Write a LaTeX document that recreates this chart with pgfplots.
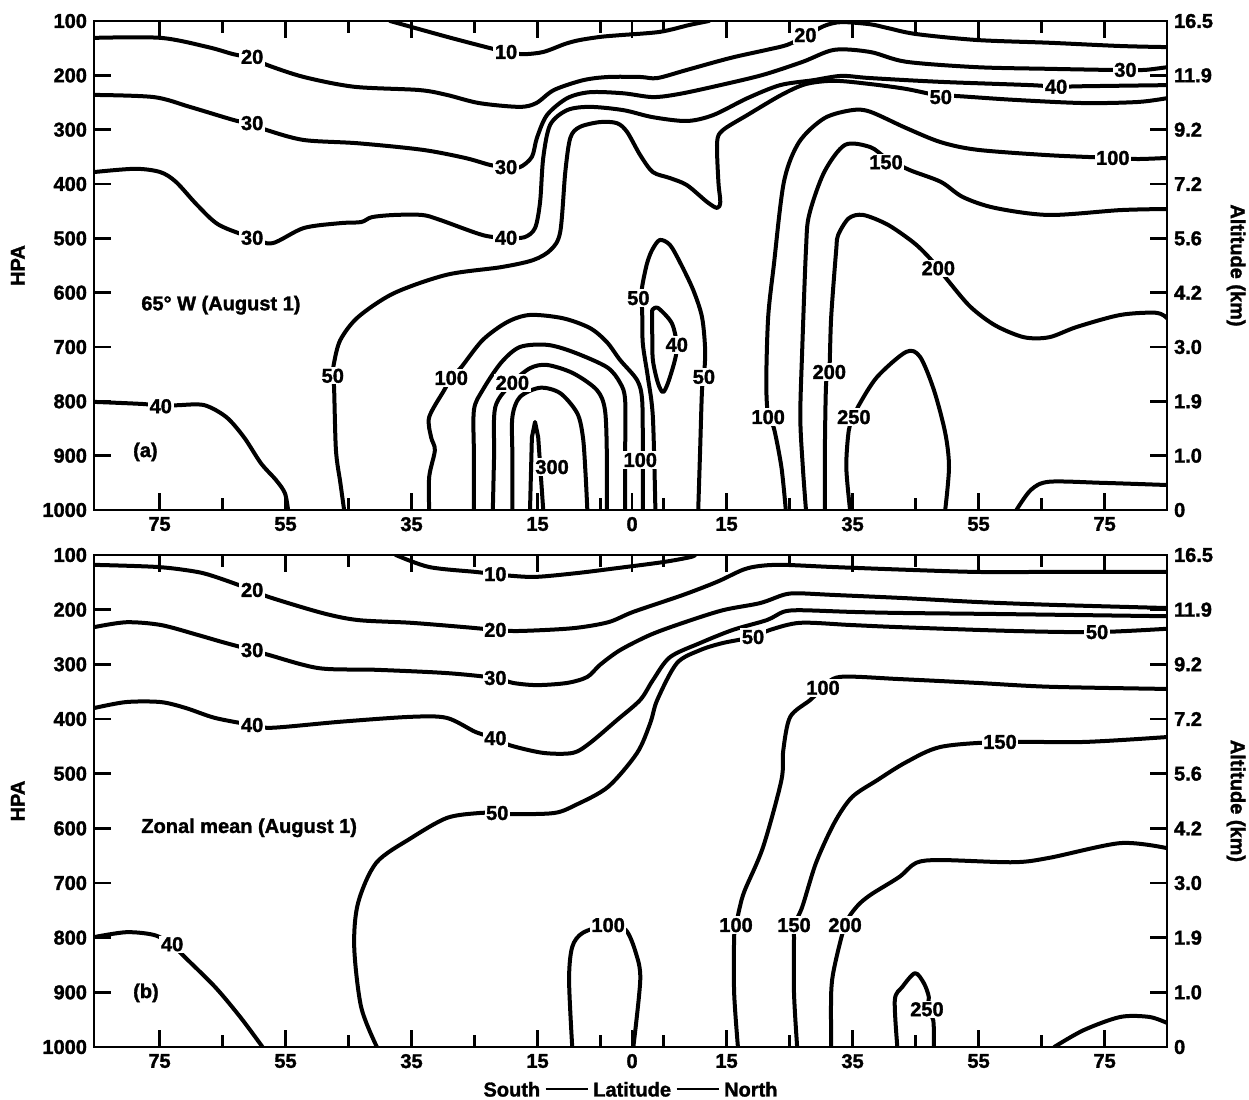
\documentclass[border=0pt]{standalone}
\usepackage{pgfplots}
\pgfplotsset{compat=1.18}
\usepackage{fontspec}
\setmainfont{Liberation Sans}[BoldFeatures={FakeBold=1.6}]
\newcommand{\tl}{\bfseries\fontsize{10}{11.5}\selectfont}
\pgfplotsset{
 base/.style={scale only axis, width=536.5pt, xmin=-85.4, xmax=84.9, ymin=100, ymax=1000, y dir=reverse},
 main/.style={base, axis line style={line width=1.4pt}, tick style={line width=1.4pt, black}, tick align=inside,
   major tick length=8.5pt, minor tick length=6pt,
   xtick={-75,-55,-35,-15,0,15,35,55,75}, xticklabels={75,55,35,15,0,15,35,55,75},
   minor xtick={-65,-45,-25,-5,5,25,45,65}, xtick pos=both, xticklabel pos=lower,
   ytick={100,200,300,400,500,600,700,800,900,1000}, yticklabels={100,200,300,400,500,600,700,800,900,1000},
   ytick pos=both, yticklabel pos=left, ticklabel style={font=\tl},
   ylabel={HPA}, ylabel style={font=\tl}, ylabel shift=2pt, no markers},
 rightax/.style={base, hide x axis, axis y line*=right, y axis line style={draw=none},
   ytick={100,200,300,400,500,600,700,800,900,1000}, yticklabels={16.5,11.9,9.2,7.2,5.6,4.2,3.0,1.9,1.0,0},
   ytick style={draw=none}, ticklabel style={font=\tl},
   ylabel={Altitude (km)}, ylabel style={font=\tl, rotate=180}},
 cl/.style={line width=2pt, black, smooth, tension=0.5, line join=round, line cap=round},
 sl/.style={line width=2pt, black, sharp plot, line join=round, line cap=round},
}
\tikzset{lb/.style={fill=white, inner sep=0.8pt, font=\tl}}
\begin{document}
\begin{tikzpicture}
\useasboundingbox (0,0) rectangle (624.5pt,549.5pt);
% ---------------- panel (a) ----------------
\begin{axis}[main, at={(47pt,294.5pt)}, anchor=south west, height=244.5pt]
\addplot[cl] coordinates {(-38.4,100)(-29.4,129)(-22.5,150)(-20,157)(-17.3,161)(-14.1,157)(-10.6,142)(-8.3,135)(-4.9,129)(-1.9,126)(4.4,120)(9.2,107)(12.2,100)};
\addplot[cl] coordinates {(-85.4,131)(-74.8,131)(-67.3,148)(-63.3,161)(-60.3,168)(-57.9,181)(-52.1,203)(-44.1,221)(-33.8,227)(-29.4,236)(-24.3,251)(-17.9,258)(-15.2,251)(-12.4,227)(-7.8,209)(-3.8,203)(1.3,203)(4.0,205)(8.7,190)(15.6,168)(21.4,153)(24.6,144)(27.5,128)(30.5,109)(33.2,102)(37.8,106)(40.6,113)(45.1,124)(54.8,135)(66.2,140)(77.5,146)(84.9,148)};
\addplot[cl] coordinates {(-85.4,236)(-75.9,240)(-70.2,258)(-63.3,282)(-60.3,290)(-57.9,301)(-52.1,319)(-43.5,325)(-33.3,337)(-26.5,352)(-22.5,365)(-20,369)(-17.8,369)(-15.9,350)(-15.1,315)(-13.5,273)(-10.3,242)(-6.7,231)(-1.4,233)(3.3,240)(7.6,234)(14.0,218)(20.8,199)(27.1,175)(32.1,153)(37.8,157)(43.5,175)(54.8,185)(66.2,188)(75.7,190)(78.3,190)(81.4,190)(84.9,185)};
\addplot[cl] coordinates {(-85.4,378)(-78.9,372)(-74.9,378)(-72.4,396)(-69.0,439)(-65.6,475)(-60.3,499)(-57.1,509)(-52.1,481)(-46.3,472)(-43.0,470)(-41.3,461)(-37.8,457)(-33.3,457)(-30.5,466)(-23.7,494)(-20,499)(-17.1,498)(-15.4,481)(-14.6,433)(-14.1,352)(-13.0,291)(-10.3,264)(-6.7,258)(-1.4,264)(3.3,277)(8.7,284)(12.9,273)(18.3,242)(23.5,218)(28.7,209)(33.2,201)(37.8,205)(49.0,212)(63.3,218)(67.3,221)(71.7,220)(84.9,218)};
\addplot[cl] coordinates {(-45.7,1000)(-46.3,950)(-47.0,890)(-47.3,774)(-47.5,753)(-47.3,729)(-46.3,687)(-43.5,645)(-37.8,601)(-29.4,567)(-20.8,553)(-15.7,540)(-12.9,521)(-11.4,488)(-10.6,378)(-9.8,315)(-8.3,295)(-5.1,286)(-2.4,288)(-0.8,304)(1.3,347)(3.3,378)(6.0,389)(8.7,402)(11.9,433)(13.5,444)(14.0,433)(13.7,396)(13.5,323)(14.4,301)(18.3,273)(23.7,236)(27.6,216)(32.1,210)(37.8,216)(43.5,225)(49.0,238)(51.4,238)(60.5,245)(71.7,251)(80.3,249)(84.9,242)};
\addplot[cl] coordinates {(24.4,1000)(23.7,921)(22.5,849)(21.6,829)(21.3,766)(21.6,645)(22.5,549)(24.1,396)(26.5,323)(30.5,279)(34.9,264)(37.8,267)(43.5,297)(49.0,323)(54.8,337)(66.2,347)(76.3,352)(80.3,354)(84.9,352)};
\addplot[cl] coordinates {(27.6,1000)(27.1,921)(26.7,829)(27.0,706)(27.6,521)(28.1,457)(30.5,378)(33.8,328)(37.8,332)(40.3,352)(44.0,374)(49.0,396)(52.5,424)(57.6,444)(66.2,457)(77.5,448)(84.9,446)};
\addplot[cl] coordinates {(30.6,1000)(30.6,890)(30.8,766)(31.3,746)(31.6,645)(32.4,521)(32.7,494)(34.4,463)(36.7,457)(40.6,475)(44.6,507)(46.8,531)(48.6,555)(50.3,580)(53.7,626)(57.6,660)(62.2,682)(66.2,682)(70.6,663)(77.5,641)(83.2,637)(84.9,647)};
\addplot[cl] coordinates {(34.6,1000)(34.0,921)(34.4,853)(35.2,829)(36.0,807)(38.9,755)(43.5,709)(45.7,718)(47.9,779)(49.7,858)(50.3,921)(49.7,1000)};
\addplot[cl] coordinates {(61.0,1000)(63.3,963)(66.2,948)(74.6,950)(84.9,954)};
\addplot[cl] coordinates {(-32.2,1000)(-32.2,939)(-31.3,890)(-31.9,866)(-32.2,829)(-29.8,779)(-28.7,757)(-27.1,737)(-23.7,687)(-19.8,654)(-16.2,641)(-11.0,647)(-6.7,665)(-4.0,691)(-1.9,724)(0.8,761)(1.6,798)(1.7,890)(1.7,950)(1.7,1000)};
\addplot[cl] coordinates {(-25.1,1000)(-25.1,900)(-25.1,816)(-23.7,779)(-20.8,729)(-17.8,700)(-13.5,696)(-9.4,709)(-4.0,737)(-1.9,766)(-1.1,798)(-1.1,900)(-1.1,1000)};
\addplot[cl] coordinates {(-22.1,1000)(-21.9,900)(-21.7,810)(-19.0,766)(-16.2,739)(-13.5,733)(-9.4,748)(-5.6,779)(-4.3,816)(-4.0,900)(-4.0,1000)};
\addplot[cl] coordinates {(-19.0,1000)(-19.0,900)(-19.0,829)(-17.8,792)(-14.6,775)(-11.4,785)(-8.7,822)(-7.8,866)(-7.4,930)(-7.1,1000)};
\addplot[sl] coordinates {(-16.2,1000)(-15.9,866)(-15.4,838)(-14.9,866)(-14.1,1000)};
\addplot[cl] coordinates {(3.7,1000)(3.3,829)(2.5,755)(1.7,693)(1.6,632)(1.4,610)(1.7,582)(2.4,545)(3.2,521)(4.4,503)(6.0,512)(7.6,544)(9.7,595)(11.1,645)(11.6,706)(11.4,755)(11.1,779)(10.8,890)(10.5,1000)};
\addplot[cl] coordinates {(3.2,632)(4.1,628)(6.3,656)(7.1,696)(6.8,724)(5.7,766)(4.9,783)(4.1,766)(3.3,724)(3.2,674)(3.2,632)};
\addplot[cl] coordinates {(-85.4,801)(-77.5,805)(-74.8,809)(-71.9,807)(-67.9,807)(-64.4,829)(-61.6,866)(-58.9,914)(-56.5,945)(-55.1,969)(-54.6,1000)};
% labels
\node[lb] at (axis cs:-20,157) {10};
\node[lb] at (axis cs:-60.3,166) {20};
\node[lb] at (axis cs:27.5,126) {20};
\node[lb] at (axis cs:-60.3,288) {30};
\node[lb] at (axis cs:-20,369) {30};
\node[lb] at (axis cs:78.3,190) {30};
\node[lb] at (axis cs:-60.3,499) {30};
\node[lb] at (axis cs:-20,499) {40};
\node[lb] at (axis cs:67.3,221) {40};
\node[lb] at (axis cs:-74.8,809) {40};
\node[lb] at (axis cs:7.1,696) {40};
\node[lb] at (axis cs:-47.5,753) {50};
\node[lb] at (axis cs:49.0,240) {50};
\node[lb] at (axis cs:1.0,610) {50};
\node[lb] at (axis cs:11.4,755) {50};
\node[lb] at (axis cs:-28.7,757) {100};
\node[lb] at (axis cs:1.3,908) {100};
\node[lb] at (axis cs:21.6,829) {100};
\node[lb] at (axis cs:76.3,352) {100};
\node[lb] at (axis cs:40.3,360) {150};
\node[lb] at (axis cs:-19.0,766) {200};
\node[lb] at (axis cs:48.6,555) {200};
\node[lb] at (axis cs:31.3,746) {200};
\node[lb] at (axis cs:35.2,829) {250};
\node[lb] at (axis cs:-12.7,921) {300};
\node[anchor=west, font=\tl] at (axis cs:-79,623) {65° W (August 1)};
\node[anchor=west, font=\tl] at (axis cs:-80.3,893) {(a)};
\end{axis}
\begin{axis}[rightax, at={(47pt,294.5pt)}, anchor=south west, height=244.5pt]
\end{axis}
% ---------------- panel (b) ----------------
\begin{axis}[main, at={(47pt,26pt)}, anchor=south west, height=246pt,
  xlabel={South \rule[0.32em]{21pt}{1.1pt} Latitude \rule[0.32em]{21pt}{1.1pt} North}, xlabel style={font=\tl}]
\addplot[cl] coordinates {(-37.5,100)(-32.2,122)(-24.8,131)(-21.7,135)(-19.2,138)(-15.2,140)(-8.7,133)(-2.4,124)(4.9,113)(9.2,104)(10.0,100)};
\addplot[cl] coordinates {(-85.4,118)(-75.2,122)(-69.0,131)(-65.6,142)(-60.3,164)(-57.6,177)(-49.2,206)(-43.5,219)(-35.1,224)(-26.5,232)(-21.7,237)(-17.9,239)(-9.5,234)(-3.8,223)(0.2,204)(8.1,173)(13.5,149)(17.6,127)(20.3,120)(24.0,118)(31.9,122)(43.5,127)(54.8,131)(66.2,131)(84.9,131)};
\addplot[cl] coordinates {(-85.4,232)(-80.3,223)(-74.8,228)(-69.0,246)(-65.1,259)(-60.3,274)(-57.6,283)(-49.7,307)(-40.6,310)(-29.4,316)(-21.7,325)(-18.9,334)(-15.1,338)(-10.3,334)(-7.1,323)(-5.1,301)(-1.9,274)(2.9,246)(8.1,224)(14.4,201)(20.3,188)(24.0,173)(26.2,170)(31.9,173)(43.5,179)(54.8,186)(66.2,191)(84.9,197)};
\addplot[cl] coordinates {(-85.4,380)(-80.3,369)(-74.8,369)(-70.8,380)(-66.2,398)(-60.3,411)(-57.1,416)(-46.3,405)(-35.1,396)(-29.4,398)(-24.8,424)(-21.7,435)(-19.4,448)(-14.1,462)(-9.4,462)(-6.7,444)(-2.4,402)(1.3,365)(3.3,329)(6.0,287)(10.8,261)(16.0,237)(21.4,219)(24.0,204)(26.7,201)(34.6,204)(42.5,206)(58.4,208)(84.9,212)};
\addplot[cl] coordinates {(-40.5,1000)(-43.0,927)(-44.1,817)(-43.5,737)(-40.6,663)(-35.1,618)(-29.4,581)(-24.3,572)(-21.4,572)(-19.2,574)(-12.4,572)(-8.9,557)(-3.8,524)(0.8,462)(2.9,407)(4.0,365)(7.1,298)(10.8,274)(14.4,261)(19.2,250)(21.9,237)(26.7,224)(34.6,228)(42.5,232)(60.5,239)(73.8,241)(84.8,235)};
\addplot[cl] coordinates {(16.8,1000)(16.2,901)(16.2,799)(16.5,777)(17.1,744)(17.9,713)(20.8,634)(23.7,512)(24.0,457)(25.1,396)(28.3,365)(30.3,343)(33.0,323)(42.5,327)(54.8,334)(66.2,341)(84.9,345)};
\addplot[cl] coordinates {(26.2,1000)(25.7,901)(25.7,799)(25.7,777)(27.0,744)(29.2,663)(32.1,590)(34.9,543)(38.9,512)(43.5,479)(49.0,451)(58.4,442)(71.7,442)(84.9,433)};
\addplot[cl] coordinates {(31.6,1000)(31.6,901)(32.1,854)(33.8,777)(35.6,744)(37.8,722)(42.4,689)(45.1,663)(49.0,658)(60.5,662)(66.2,654)(77.5,627)(84.8,636)};
\addplot[cl] coordinates {(42.1,1000)(41.7,914)(42.9,890)(44.9,865)(46.3,883)(47.1,909)(46.8,931)(47.8,951)(47.9,1000)};
\addplot[cl] coordinates {(67.0,1000)(71.7,969)(77.5,945)(82.1,945)(84.9,956)};
\addplot[cl] coordinates {(-9.5,1000)(-10.0,877)(-9.5,817)(-7.8,791)(-3.8,777)(-1.0,786)(0.6,828)(1.3,877)(0.2,1000)};
\addplot[cl] coordinates {(-85.4,799)(-80.3,790)(-75.9,795)(-73.0,812)(-71.3,832)(-66.2,890)(-62.2,945)(-58.9,996)(-58.7,1000)};
% labels
\node[lb] at (axis cs:-21.7,135) {10};
\node[lb] at (axis cs:-60.3,164) {20};
\node[lb] at (axis cs:-21.7,237) {20};
\node[lb] at (axis cs:-60.3,274) {30};
\node[lb] at (axis cs:-21.7,325) {30};
\node[lb] at (axis cs:-60.3,411) {40};
\node[lb] at (axis cs:-21.7,435) {40};
\node[lb] at (axis cs:-73.0,812) {40};
\node[lb] at (axis cs:-21.4,572) {50};
\node[lb] at (axis cs:19.2,250) {50};
\node[lb] at (axis cs:73.8,241) {50};
\node[lb] at (axis cs:-3.8,777) {100};
\node[lb] at (axis cs:16.5,777) {100};
\node[lb] at (axis cs:30.3,343) {100};
\node[lb] at (axis cs:25.7,777) {150};
\node[lb] at (axis cs:58.4,442) {150};
\node[lb] at (axis cs:33.8,777) {200};
\node[lb] at (axis cs:46.8,931) {250};
\node[anchor=west, font=\tl] at (axis cs:-79,599) {Zonal mean (August 1)};
\node[anchor=west, font=\tl] at (axis cs:-80.3,901) {(b)};
\end{axis}
\begin{axis}[rightax, at={(47pt,26pt)}, anchor=south west, height=246pt]
\end{axis}
\end{tikzpicture}
\end{document}
